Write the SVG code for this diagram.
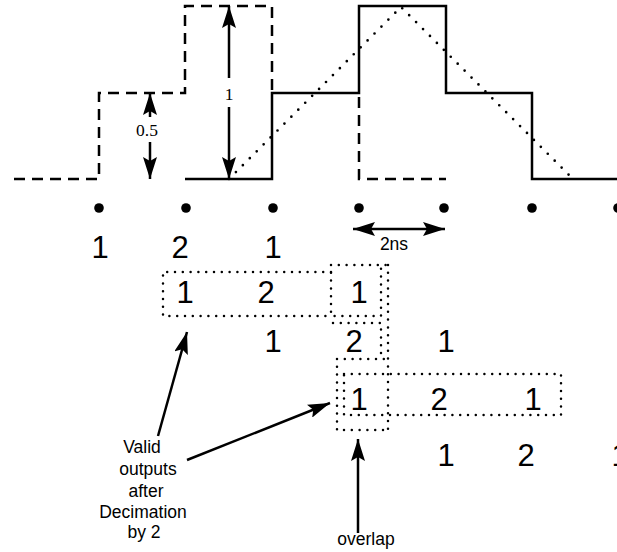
<svg xmlns="http://www.w3.org/2000/svg" width="617" height="552" viewBox="0 0 617 552">
<style>
.dash{fill:none;stroke:#000;stroke-width:2.5;stroke-dasharray:11 7}
.solid{fill:none;stroke:#000;stroke-width:2.5}
.tri{fill:none;stroke:#000;stroke-width:2.7;stroke-dasharray:0 9.8;stroke-linecap:round}
.box{fill:none;stroke:#000;stroke-width:2.5;stroke-dasharray:0 7.8;stroke-linecap:round}
.arr{fill:none;stroke:#000;stroke-width:2.5}
.num{font-family:"Liberation Sans",Arial,sans-serif;font-size:31px;text-anchor:middle;fill:#000}
.lbl{font-family:"Liberation Sans",Arial,sans-serif;font-size:17.5px;text-anchor:middle;fill:#000}
.ser{font-family:"Liberation Serif","Times New Roman",serif;font-size:17.5px;text-anchor:middle;fill:#000}
</style>
<defs>
<marker id="ah" viewBox="0 0 22 14" refX="22" refY="7" markerWidth="22" markerHeight="14" markerUnits="userSpaceOnUse" orient="auto-start-reverse">
<path d="M0,0 L22,7 L0,14 L4,7 Z" fill="#000"/>
</marker>
</defs>
<rect width="617" height="552" fill="#fff"/>
<g id="waveforms">
<path class="dash" d="M14,179 H99 V93 H185 V6 H272 V93"/>
<path class="dash" d="M359,97 V179 H446"/>
<path class="solid" d="M185,179 H272 V93 H359 V6 H446 V93 H532 V179 H617"/>
<path class="tri" d="M229,179 L401,7 L573,179"/>
</g>
<g id="samples">
<circle cx="99" cy="208" r="4.8"/>
<circle cx="186" cy="208" r="4.8"/>
<circle cx="273" cy="208" r="4.8"/>
<circle cx="359" cy="208" r="4.8"/>
<circle cx="444" cy="208" r="4.8"/>
<circle cx="532" cy="208" r="4.8"/>
<circle cx="618" cy="208" r="4.8"/>
</g>
<g id="numbers">
<text class="num" x="100" y="258">1</text>
<text class="num" x="180" y="258">2</text>
<text class="num" x="273" y="258">1</text>
<text class="num" x="185" y="303">1</text>
<text class="num" x="266" y="303">2</text>
<text class="num" x="359" y="303">1</text>
<text class="num" x="273" y="352">1</text>
<text class="num" x="354" y="352">2</text>
<text class="num" x="446" y="352">1</text>
<text class="num" x="359" y="410">1</text>
<text class="num" x="439" y="410">2</text>
<text class="num" x="533" y="410">1</text>
<text class="num" x="446" y="466">1</text>
<text class="num" x="526" y="466">2</text>
<text class="num" x="620" y="466">1</text>
</g>
<g id="boxes">
<path class="box" d="M331,272 H163 V316 H331"/>
<path class="box" d="M331,265 H388 M331,265 V316 H381 V265"/>
<path class="box" d="M388,265 V430"/>
<path class="box" d="M333,323 H381 V359"/>
<path class="box" d="M337,359 H388 M337,359 V430 H388"/>
<path class="box" d="M344,374 H561 V415 H344 Z"/>
</g>
<g id="connectors">
<line class="arr" x1="229" y1="78" x2="229" y2="6" marker-end="url(#ah)"/>
<line class="arr" x1="229" y1="107" x2="229" y2="179" marker-end="url(#ah)"/>
<line class="arr" x1="150" y1="117" x2="150" y2="93" marker-end="url(#ah)"/>
<line class="arr" x1="150" y1="142" x2="150" y2="179" marker-end="url(#ah)"/>
<line class="arr" x1="353" y1="229" x2="445" y2="229" marker-start="url(#ah)" marker-end="url(#ah)"/>
<line class="arr" x1="158" y1="436" x2="187" y2="332" marker-end="url(#ah)"/>
<line class="arr" x1="187" y1="460" x2="330" y2="403" marker-end="url(#ah)"/>
<line class="arr" x1="358" y1="533" x2="358" y2="439" marker-end="url(#ah)"/>
</g>
<g id="labels">
<text class="ser" x="229" y="100">1</text>
<text class="ser" x="147" y="136">0.5</text>
<text class="lbl" x="394" y="250">2ns</text>
<text class="lbl" x="142" y="453">Valid</text>
<text class="lbl" x="148" y="475">outputs</text>
<text class="lbl" x="146" y="497">after</text>
<text class="lbl" x="143" y="518">Decimation</text>
<text class="lbl" x="144" y="538">by 2</text>
<text class="lbl" x="366" y="545">overlap</text>
</g>
</svg>
